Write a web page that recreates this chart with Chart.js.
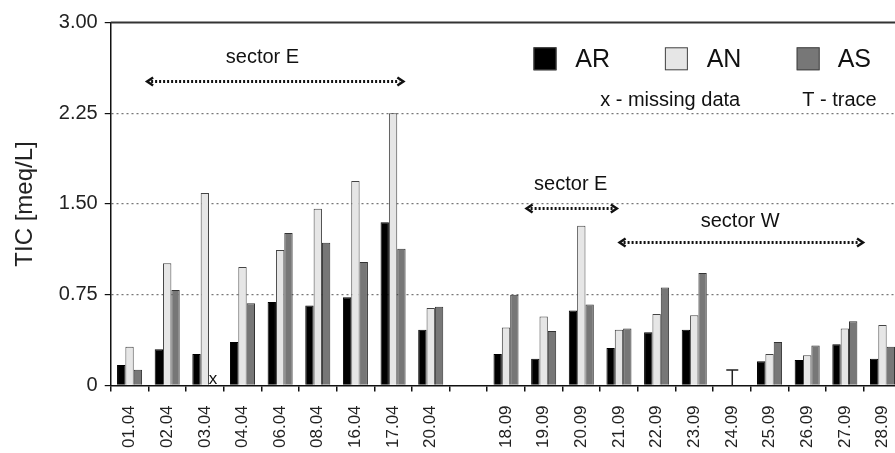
<!DOCTYPE html>
<html>
<head>
<meta charset="utf-8">
<script src="https://cdn.jsdelivr.net/npm/chart.js@4.4.1/dist/chart.umd.min.js"></script>
<style>
  html, body { margin: 0; padding: 0; background: #fff; overflow: hidden; }
  #wrap { position: absolute; left: 0; top: 0; width: 917px; height: 453px; }
</style>
</head>
<body>
<div id="wrap"><canvas id="chart"></canvas></div>
<script>
// sampling dates (blank slot separates April and September)
const dates = ['01.04', '02.04', '03.04', '04.04', '06.04', '08.04', '16.04', '17.04', '20.04', '',
  '18.09', '19.09', '20.09', '21.09', '22.09', '23.09', '24.09', '25.09', '26.09', '27.09', '28.09'];

// TIC [meq/L]; null = missing data / trace
const arValues = [0.17, 0.30, 0.26, 0.36, 0.69, 0.66, 0.73, 1.35, 0.46, null,
  0.26, 0.22, 0.62, 0.31, 0.44, 0.46, null, 0.20, 0.21, 0.34, 0.22];
const anValues = [0.32, 1.01, 1.59, 0.98, 1.12, 1.46, 1.69, 2.25, 0.64, null,
  0.48, 0.57, 1.32, 0.46, 0.59, 0.58, null, 0.26, 0.25, 0.47, 0.50];
const asValues = [0.13, 0.79, null, 0.68, 1.26, 1.18, 1.02, 1.13, 0.65, null,
  0.75, 0.45, 0.67, 0.47, 0.81, 0.93, null, 0.36, 0.33, 0.53, 0.32];

const yTicks = [0, 0.75, 1.5, 2.25, 3];

const font = '"Liberation Sans", Arial, Helvetica, sans-serif';

const ctxEl = document.getElementById('chart');

// arrows, sector labels, legend and notes drawn on top of the plot
const notes = {
  id: 'notes',
  afterDraw(chart) {
    const { ctx, chartArea: a, scales: { x, y } } = chart;
    const px = i => x.getPixelForValue(i);
    const py = v => y.getPixelForValue(v);

    ctx.save();
    // top frame line
    ctx.strokeStyle = '#333';
    ctx.lineWidth = 2;
    ctx.beginPath();
    ctx.moveTo(a.left, a.top);
    ctx.lineTo(a.right + 20, a.top);
    ctx.stroke();

    function arrow(i0, i1, v) {
      const x0 = px(i0), x1 = px(i1), yy = Math.round(py(v)) + 0.5;
      ctx.strokeStyle = '#111';
      ctx.lineWidth = 3;
      ctx.setLineDash([2, 2]);
      ctx.beginPath();
      ctx.moveTo(x0 + 5, yy);
      ctx.lineTo(x1 - 5, yy);
      ctx.stroke();
      ctx.setLineDash([]);
      ctx.lineWidth = 2.5;
      ctx.beginPath();
      ctx.moveTo(x0 + 7, yy - 4);
      ctx.lineTo(x0 + 1, yy);
      ctx.lineTo(x0 + 7, yy + 4);
      ctx.moveTo(x1 - 7, yy - 4);
      ctx.lineTo(x1 - 1, yy);
      ctx.lineTo(x1 - 7, yy + 4);
      ctx.stroke();
    }
    arrow(0.44, 7.3, 2.52);
    arrow(10.52, 12.97, 1.47);
    arrow(12.99, 19.51, 1.187);

    ctx.fillStyle = '#111';
    ctx.textBaseline = 'middle';
    ctx.textAlign = 'center';
    ctx.font = '20px ' + font;
    ctx.fillText('sector E', px(3.53), py(2.71));
    ctx.fillText('sector E', px(11.72), py(1.66));
    ctx.fillText('sector W', px(16.22), py(1.353));

    // legend
    const items = [['AR', '#000000', 10.73, 11.84], ['AN', '#e6e6e6', 14.22, 15.33], ['AS', '#777777', 17.72, 18.81]];
    ctx.textAlign = 'left';
    ctx.font = '25px ' + font;
    items.forEach(([name, col, bi, ti]) => {
      const bx = px(bi), by = py(2.70);
      ctx.fillStyle = col;
      ctx.fillRect(bx, by - 11.5, 23, 23);
      ctx.strokeStyle = '#444';
      ctx.lineWidth = 1;
      ctx.strokeRect(bx + 0.5, by - 11, 22, 22);
      ctx.fillStyle = '#111';
      ctx.fillText(name, px(ti), by + 1);
    });

    ctx.font = '20px ' + font;
    ctx.fillText('x - missing data', px(12.5), py(2.355));
    ctx.fillText('T - trace', px(17.87), py(2.355));

    // missing-data and trace markers
    ctx.textAlign = 'center';
    ctx.textBaseline = 'alphabetic';
    ctx.font = '17px ' + font;
    ctx.fillText('x', px(2.22), py(0) - 1);
    const tx = px(16.01), ty = py(0.127), t0 = py(0);
    ctx.strokeStyle = '#222';
    ctx.lineWidth = 1.5;
    ctx.beginPath();
    ctx.moveTo(tx - 6, ty);
    ctx.lineTo(tx + 6, ty);
    ctx.moveTo(tx, ty);
    ctx.lineTo(tx, t0);
    ctx.stroke();
    ctx.restore();
  }
};

new Chart(ctxEl, {
  type: 'bar',
  data: {
    labels: dates,
    datasets: [{
      label: 'AR',
      data: arValues,
      backgroundColor: '#000000',
      borderColor: '#000000',
      borderWidth: 1
    }, {
      label: 'AN',
      data: anValues,
      backgroundColor: '#e6e6e6',
      borderColor: '#444444',
      borderWidth: 1
    }, {
      label: 'AS',
      data: asValues,
      backgroundColor: '#777777',
      borderColor: '#333333',
      borderWidth: 1
    }]
  },
  options: {
    responsive: true,
    maintainAspectRatio: false,
    animation: false,
    categoryPercentage: 0.665,
    barPercentage: 1,
    layout: { padding: { left: 11, top: 22.5, right: 5, bottom: -9 } },
    plugins: {
      legend: { display: false },
      tooltip: { enabled: false }
    },
    scales: {
      x: {
        grid: { drawOnChartArea: false, tickLength: 6, tickColor: '#111', lineWidth: 1.5 },
        border: { color: '#111', width: 1.5 },
        ticks: {
          color: '#222',
          font: { family: font, size: 17 },
          maxRotation: 90,
          minRotation: 90,
          padding: 14,
          autoSkip: false
        }
      },
      y: {
        min: 0,
        max: 3,
        afterBuildTicks: axis => { axis.ticks = yTicks.map(v => ({ value: v })); },
        grid: {
          color: c => (c.tick && (c.tick.value === 0 || c.tick.value === 3)) ? 'rgba(0,0,0,0)' : '#777',
          tickColor: '#111',
          tickLength: 6,
          lineWidth: 1.2
        },
        border: { color: '#111', width: 1.5, dash: [2, 3] },
        ticks: {
          color: '#222',
          font: { family: font, size: 20 },
          padding: 7,
          callback: v => v === 0 ? '0' : v.toFixed(2)
        },
        title: {
          display: true,
          text: 'TIC [meq/L]',
          color: '#222',
          font: { family: font, size: 24 },
          padding: { top: 0, bottom: 12 }
        }
      }
    }
  },
  plugins: [notes]
});
</script>
</body>
</html>
